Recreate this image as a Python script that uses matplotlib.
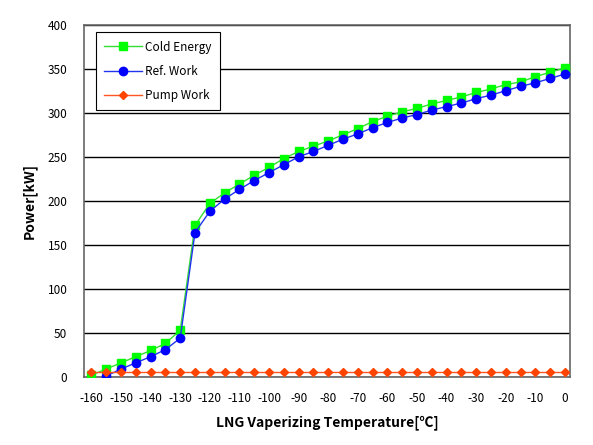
import matplotlib
matplotlib.use("Agg")
import matplotlib.pyplot as plt
import numpy as np

plt.rcParams['font.family'] = ['Noto Sans CJK KR', 'DejaVu Sans']
plt.rcParams['axes.unicode_minus'] = False

temps = list(range(-160, 1, 5))
cold_energy = [2, 9, 16, 23, 30, 38, 53, 172, 197, 209, 219, 229, 238, 248, 256, 262, 268, 275,
               282, 290, 296, 301, 305, 310, 314, 318, 323, 327, 332, 335, 341, 346, 351]
ref_work = [-8, 1, 9, 16, 23, 31, 44, 164, 188, 202, 213, 223, 232, 241, 250, 256, 263, 270,
            276, 283, 289, 294, 298, 303, 307, 311, 316, 320, 325, 330, 334, 339, 344]
pump_work = [6] * len(temps)

xticks = list(range(-160, 1, 10))
yticks = list(range(0, 401, 50))

fig = plt.figure(figsize=(5.93, 4.45), dpi=100)
ax = fig.add_axes([0.1417, 0.153, 0.8195, 0.7915])

ax.plot(temps, cold_energy, color='#33dd33', lw=1.0, marker='s', ms=5.5,
        mfc='#00ff00', mec='#00ff00', label='Cold Energy', zorder=3)
ax.plot(temps, ref_work, color='#2233ee', lw=1.0, marker='o', ms=6,
        mfc='#0000ff', mec='#0000ff', label='Ref. Work', zorder=4)
ax.plot(temps, pump_work, color='#ff5522', lw=1.0, marker='D', ms=4,
        mfc='#ff4400', mec='#ff4400', label='Pump Work', zorder=5)

ax.set_xlim(-162.5, 1.7)
ax.set_ylim(0, 400)
ax.set_xticks(xticks)
ax.set_yticks(yticks)
ax.tick_params(axis='x', length=0, labelsize=8.5, pad=11, colors='black')
ax.tick_params(axis='y', length=0, labelsize=8.5, pad=12, colors='black')
ax.yaxis.grid(True, color='black', lw=1.0)
ax.set_axisbelow(True)
for s in ax.spines.values():
    s.set_color('#666666')
    s.set_linewidth(1.2)

ax.set_xlabel('LNG Vaperizing Temperature[℃]', fontsize=10, fontweight='bold', labelpad=7)
ax.set_ylabel('Power[kW]', fontsize=10, fontweight='bold', labelpad=8)

leg = ax.legend(loc='upper left', bbox_to_anchor=(0.012, 0.995), fontsize=8.5,
                frameon=True, fancybox=False, edgecolor='black', framealpha=1,
                handlelength=3.2, borderpad=0.7, labelspacing=0.95, handletextpad=0.3)
leg.get_frame().set_linewidth(0.8)

fig.savefig('out.png', dpi=100)
